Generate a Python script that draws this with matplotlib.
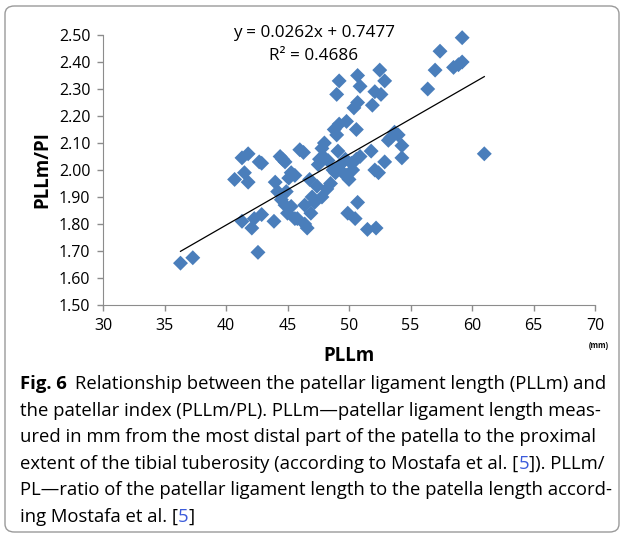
import matplotlib
matplotlib.use('Agg')
import matplotlib.pyplot as plt
import numpy as np
from matplotlib.patches import FancyBboxPatch

# PLLm (mm) and PLLm/PL readings
pllm = [36.3, 37.3, 42.6, 40.7, 41.5, 41.8, 41.3, 41.8, 42.7, 42.9,
        41.3, 42.1, 42.3, 42.9, 43.9, 44.0, 44.4, 44.8, 44.6, 44.2,
        44.5, 44.8, 45.3, 45.0, 45.3, 45.1, 45.6, 45.8, 46.4, 46.6,
        46.0, 46.3, 47.2, 46.4, 47.4, 46.8, 47.0, 47.6, 47.5, 47.9,
        47.8, 48.0, 48.2, 48.5, 47.8, 48.8, 49.2, 49.0, 49.1, 48.7,
        49.0, 49.2, 49.5, 49.3, 49.8, 49.7, 50.0, 49.8, 50.3, 49.9,
        50.5, 50.7, 50.6, 50.4, 50.7, 50.9, 50.7, 50.6, 50.9, 51.5,
        52.2, 51.8, 51.9, 52.1, 52.5, 52.9, 52.6, 52.1, 52.4, 52.9,
        53.2, 53.7, 53.4, 54.0, 54.3, 54.3, 56.4, 57.0, 57.4, 58.5,
        58.9, 59.2, 59.2, 61.0, 48.3, 48.9, 50.2, 46.9, 44.9, 45.6]
ratio = [1.655, 1.675, 1.695, 1.965, 1.99, 1.955, 2.045, 2.06, 2.03, 2.025,
         1.81, 1.785, 1.82, 1.835, 1.81, 1.955, 2.05, 2.03, 2.04, 1.92,
         1.89, 1.87, 1.865, 1.84, 1.99, 1.97, 1.98, 1.82, 1.80, 1.785,
         2.075, 2.065, 1.88, 1.87, 1.94, 1.965, 1.90, 2.04, 2.02, 2.05,
         2.08, 2.10, 1.93, 1.95, 1.90, 2.15, 2.17, 2.13, 2.07, 2.00,
         2.28, 2.33, 1.99, 2.02, 2.18, 2.04, 1.965, 1.98, 2.00, 1.84,
         1.82, 1.88, 2.15, 2.23, 2.25, 2.31, 2.35, 2.04, 2.05, 1.78,
         1.785, 2.07, 2.24, 2.29, 2.37, 2.33, 2.28, 2.00, 1.99, 2.03,
         2.11, 2.14, 2.12, 2.13, 2.09, 2.045, 2.30, 2.37, 2.44, 2.38,
         2.39, 2.40, 2.49, 2.06, 2.035, 1.99, 2.025, 1.84, 1.92, 1.82]

slope = 0.0262
intercept = 0.7477
r2 = 0.4686

xticks = [30, 35, 40, 45, 50, 55, 60, 65, 70]
yticks = [1.50, 1.60, 1.70, 1.80, 1.90, 2.00, 2.10, 2.20, 2.30, 2.40, 2.50]

caption_lines = [
    "the patellar index (PLLm/PL). PLLm\u2014patellar ligament length meas-",
    "ured in mm from the most distal part of the patella to the proximal",
]

W, H = 624, 537
fig = plt.figure(figsize=(W / 100, H / 100), dpi=100)
plt.rcParams['font.family'] = ['Open Sans', 'DejaVu Sans']

# rounded frame around chart + caption
frame = FancyBboxPatch((5 / W, 5 / H), 614 / W, 526 / H,
                       boxstyle='round,pad=0,rounding_size=0.015',
                       transform=fig.transFigure, facecolor='none',
                       edgecolor='#9a9a9a', linewidth=1.0)
fig.patches.append(frame)

ax = fig.add_axes([103 / W, 1 - 305 / H, 492 / W, 270 / H])
ax.scatter(pllm, ratio, marker='D', s=58, color='#4a7ebb', edgecolors='none',
           zorder=3, clip_on=False)
xs = np.array([min(pllm), max(pllm)])
ax.plot(xs, slope * xs + intercept, color='black', linewidth=0.9, zorder=4)

ax.set_xlim(30, 70)
ax.set_ylim(1.5, 2.5)
ax.set_xticks(xticks)
ax.set_yticks(yticks)
ax.set_xticklabels([str(t) for t in xticks], fontsize=11.5)
ax.set_yticklabels(['%.2f' % t for t in yticks], fontsize=11.5)
for s in ['top', 'right']:
    ax.spines[s].set_visible(False)
for s in ['left', 'bottom']:
    ax.spines[s].set_color('#8c8c8c')
ax.tick_params(direction='out', length=4, color='#8c8c8c', width=1, pad=5)
ax.set_xlabel('PLLm', fontsize=13.5, fontweight='bold', labelpad=9)
ax.set_ylabel('PLLm/PI', fontsize=13.5, fontweight='bold', labelpad=5)
fig.text(599 / W, 1 - 345 / H, '(mm)', fontsize=5.5, fontweight='bold', ha='center', va='center')

fig.text(314 / W, 1 - 33 / H, 'y = %.4fx + %.4f' % (slope, intercept), fontsize=12.3,
         ha='center', va='center')
fig.text(314 / W, 1 - 56 / H, 'R\u00b2 = %.4f' % r2, fontsize=12.3, ha='center', va='center')

# caption
cap_fs = 13.3
x0 = 20 / W
fig.canvas.draw()
r = fig.canvas.get_renderer()
t = fig.text(x0, 1 - 384 / H, 'Fig. 6', fontsize=cap_fs, fontweight='bold', va='center',
             family=['Open Sans'])
bb = t.get_window_extent(r)
fig.text(bb.x1 / W + 8 / W, 1 - 384 / H,
         'Relationship between the patellar ligament length (PLLm) and',
         fontsize=cap_fs, va='center')
y = 384
for line in caption_lines:
    y += 26.6
    fig.text(x0, 1 - y / H, line, fontsize=cap_fs, va='center')

y += 26.6
t = fig.text(x0, 1 - y / H, 'extent of the tibial tuberosity (according to Mostafa et al. [',
             fontsize=cap_fs, va='center')
bb = t.get_window_extent(r)
t = fig.text(bb.x1 / W, 1 - y / H, '5', fontsize=cap_fs, va='center', color='#3b5bdb')
bb = t.get_window_extent(r)
fig.text(bb.x1 / W, 1 - y / H, ']). PLLm/', fontsize=cap_fs, va='center')

y += 26.6
fig.text(x0, 1 - y / H, 'PL\u2014ratio of the patellar ligament length to the patella length accord-',
         fontsize=cap_fs, va='center')
y += 26.6
t = fig.text(x0, 1 - y / H, 'ing Mostafa et al. [', fontsize=cap_fs, va='center')
bb = t.get_window_extent(r)
t = fig.text(bb.x1 / W, 1 - y / H, '5', fontsize=cap_fs, va='center', color='#3b5bdb')
bb = t.get_window_extent(r)
fig.text(bb.x1 / W, 1 - y / H, ']', fontsize=cap_fs, va='center')

fig.savefig('out.png', dpi=100)
